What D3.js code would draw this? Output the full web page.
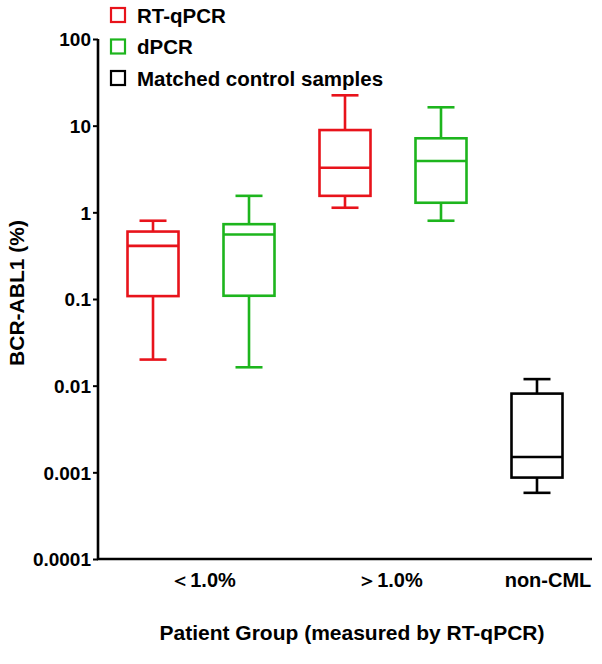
<!DOCTYPE html>
<html><head><meta charset="utf-8">
<script src="https://cdn.jsdelivr.net/npm/d3@7"></script>
<style>
body{margin:0;background:#fff;}
text{font-family:"Liberation Sans",Arial,sans-serif;font-weight:bold;fill:#000;}
</style></head>
<body><svg id="c" width="602" height="664"></svg>
<script>
// ---- data ----
const boxKeys = ["lt_rt","lt_d","gt_rt","gt_d","ctrl"];
const boxSeries = ["RT-qPCR","dPCR","RT-qPCR","dPCR","Matched control samples"];
const boxGroup = ["<1.0%","<1.0%",">1.0%",">1.0%","non-CML"];
const whiskerLow  = [0.020, 0.0163, 1.13, 0.80, 0.00058];
const q1          = [0.108, 0.109, 1.55, 1.29, 0.00087];
const median      = [0.41, 0.555, 3.27, 3.91, 0.0015];
const q3          = [0.60, 0.73, 8.9, 7.15, 0.0081];
const whiskerHigh = [0.80, 1.55, 22.4, 16.3, 0.0119];
const groupLabels = ["\uFF1C1.0%", "\uFF1E1.0%", "non-CML"];
const groupKeys = ["<1.0%", ">1.0%", "non-CML"];
const yTicks = [100, 10, 1, 0.1, 0.01, 0.001, 0.0001];
const yTickLabels = ["100","10","1","0.1","0.01","0.001","0.0001"];
const legendLabels = ["RT-qPCR","dPCR","Matched control samples"];
const legendColors = ["#e8131b","#1db51d","#000000"];

const colorOf = d3.scaleOrdinal().domain(legendLabels).range(legendColors);

const svg = d3.select("#c");
const x0 = 98, x1 = 592, yTop = 39, yBot = 559;
const x = d3.scalePoint().domain(boxKeys).range([x0, x1]).padding(0.573);
const y = d3.scaleLog().domain([1e-4, 100]).range([yBot, yTop]);
const boxW = 51, capW = 27, sw = 2.6;

// y axis
const yAxis = d3.axisLeft(y).tickValues(yTicks).tickFormat((d,i)=>yTickLabels[i]).tickSize(5).tickSizeOuter(0);
const gy = svg.append("g").attr("transform",`translate(${x0},0)`).call(yAxis);
gy.select(".domain").attr("stroke","#000").attr("stroke-width",sw).attr("d",`M0,${yTop}V${yBot+1}`);
gy.selectAll(".tick line").attr("stroke","#000").attr("stroke-width",2);
gy.selectAll(".tick text").attr("font-size",19).attr("x",-7).attr("dy","0.36em")
  .style("font-family","'Liberation Sans',Arial,sans-serif").style("font-weight","bold");

// x axis line
svg.append("line").attr("x1",x0-1).attr("x2",x1).attr("y1",yBot).attr("y2",yBot)
  .attr("stroke","#000").attr("stroke-width",sw);

// boxes
const data = boxKeys.map((k,i)=>({k, s:boxSeries[i], lo:whiskerLow[i], q1:q1[i], med:median[i], q3:q3[i], hi:whiskerHigh[i]}));
const g = svg.append("g").selectAll("g").data(data).join("g")
  .attr("stroke",d=>colorOf(d.s)).attr("stroke-width",sw).attr("fill","none");
g.append("line").attr("x1",d=>x(d.k)).attr("x2",d=>x(d.k)).attr("y1",d=>y(d.hi)).attr("y2",d=>y(d.q3));
g.append("line").attr("x1",d=>x(d.k)).attr("x2",d=>x(d.k)).attr("y1",d=>y(d.q1)).attr("y2",d=>y(d.lo));
g.append("line").attr("x1",d=>x(d.k)-capW/2).attr("x2",d=>x(d.k)+capW/2).attr("y1",d=>y(d.hi)).attr("y2",d=>y(d.hi));
g.append("line").attr("x1",d=>x(d.k)-capW/2).attr("x2",d=>x(d.k)+capW/2).attr("y1",d=>y(d.lo)).attr("y2",d=>y(d.lo));
g.append("rect").attr("x",d=>x(d.k)-boxW/2).attr("width",boxW).attr("y",d=>y(d.q3)).attr("height",d=>y(d.q1)-y(d.q3)).attr("fill","#fff");
g.append("line").attr("x1",d=>x(d.k)-boxW/2).attr("x2",d=>x(d.k)+boxW/2).attr("y1",d=>y(d.med)).attr("y2",d=>y(d.med));

// group labels
const labelDx = [2, -3, 11];
groupKeys.forEach((gk,i)=>{
  const xs = boxKeys.filter((k,j)=>boxGroup[j]===gk).map(k=>x(k));
  svg.append("text").attr("x",d3.mean(xs)+labelDx[i]).attr("y",587).attr("text-anchor","middle")
    .attr("font-size",20).text(groupLabels[i]);
});

// axis titles
svg.append("text").attr("x",352).attr("y",640).attr("text-anchor","middle").attr("font-size",21)
  .text("Patient Group (measured by RT-qPCR)");
svg.append("text").attr("transform","translate(24,293) rotate(-90)").attr("text-anchor","middle").attr("font-size",21)
  .text("BCR-ABL1 (%)");

// legend
const lg = svg.append("g").selectAll("g").data(legendLabels).join("g")
  .attr("transform",(d,i)=>`translate(111,${8+i*31.5})`);
lg.append("rect").attr("width",14).attr("height",14).attr("fill","none").attr("stroke",d=>colorOf(d)).attr("stroke-width",2.2);
lg.append("text").attr("x",26).attr("y",14.5).attr("font-size",20.5).text(d=>d);
</script></body></html>
